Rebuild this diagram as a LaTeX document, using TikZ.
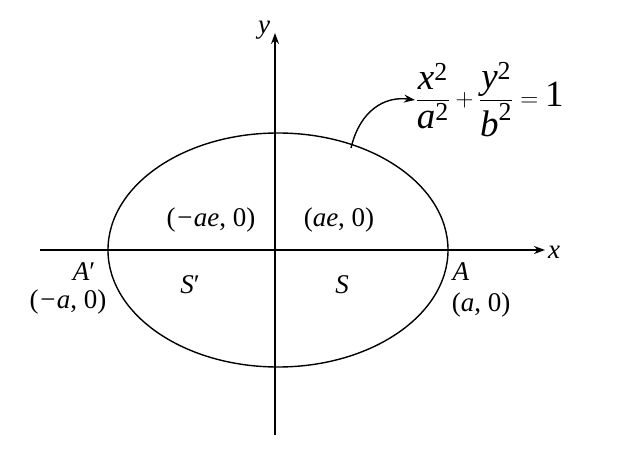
\documentclass[tikz,border=0pt]{standalone}
\usepackage{amsmath}
\usepackage{fontspec}
\setmainfont{Liberation Serif}
\usetikzlibrary{arrows.meta}
\newcommand{\iv}[1]{\textit{#1}}
\begin{document}
\begin{tikzpicture}[x=1pt,y=-1pt,line width=1.4pt,
  lbl/.style={font=\fontsize{27}{30}\selectfont, inner sep=0pt},
  arr/.style={-{Stealth[length=11pt,width=8pt]}}]
\useasboundingbox (0,0) rectangle (620,457);
\coordinate (xl) at (40,250); \coordinate (xr) at (545,250);
\coordinate (yb) at (275,435); \coordinate (yt) at (275,33);
\draw[arr] (xl) -- (xr);
\draw[arr] (yb) -- (yt);
\draw (278,250) ellipse [x radius=170, y radius=117];
\node[lbl] (xlab) at (554,252) {\iv{x}};
\node[lbl] (ylab) at (264,30) {\iv{y}};
\coordinate (c0) at (351,148);
\node[lbl,font=\fontsize{37}{40}\selectfont,anchor=west] (eq) at (415,100)
  {$\dfrac{\text{\iv{x}}^{\text{2}}}{\text{\iv{a}}^{\text{2}}}+\dfrac{\text{\iv{y}}^{\text{2}}}{\text{\iv{b}}^{\text{2}}}=\text{1}$};
\draw[arr] (c0) .. controls (360,110) and (385,96) .. (eq.west);
\node[lbl] (f1) at (211,220) {(\iv{−ae}, 0)};
\node[lbl] (f2) at (339,220) {(\iv{ae}, 0)};
\node[lbl] (s1) at (190,285) {\iv{S}′};
\node[lbl] (s2) at (342,285) {\iv{S}};
\node[lbl] (a1) at (84,272) {\iv{A}′};
\node[lbl] (a1c) at (68,302) {(\iv{−a}, 0)};
\node[lbl] (a2) at (461,272) {\iv{A}};
\node[lbl] (a2c) at (481,305) {(\iv{a}, 0)};
\end{tikzpicture}
\end{document}
